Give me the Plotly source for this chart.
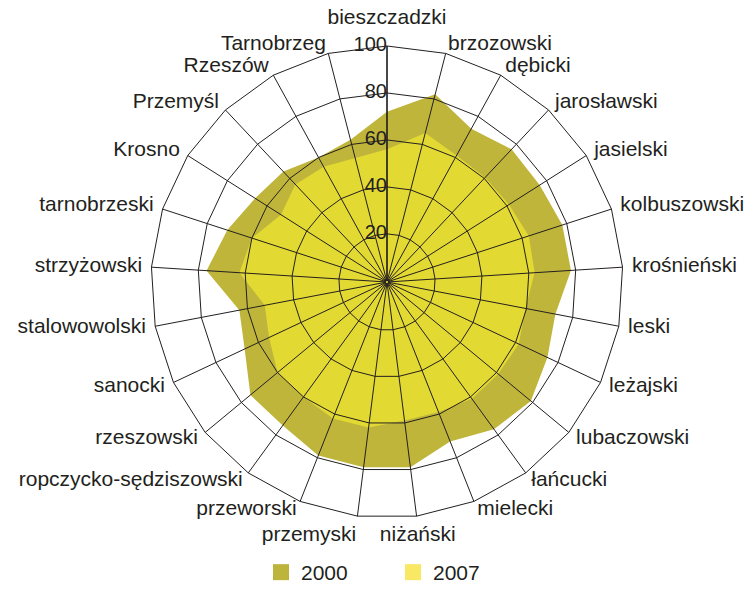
import math
import plotly.graph_objects as go

# districts of Podkarpackie, clockwise from the top
categories = [
    "bieszczadzki", "brzozowski", "dębicki", "jarosławski", "jasielski",
    "kolbuszowski", "krośnieński", "leski", "leżajski", "lubaczowski",
    "łańcucki", "mielecki", "niżański", "przemyski", "przeworski",
    "ropczycko-sędziszowski", "rzeszowski", "sanocki", "stalowowolski",
    "strzyżowski", "tarnobrzeski", "Krosno", "Przemyśl", "Rzeszów", "Tarnobrzeg",
]

values_2000 = [72, 82, 74, 77, 76.5, 78, 78, 72.5, 75, 79, 77, 72.5, 79, 79, 79,
               75, 75, 66.5, 63.5, 76.5, 71, 66, 64, 60, 62]
values_2007 = [56, 65, 61, 60.5, 61, 63, 62.5, 59.5, 61.5, 61, 61, 59, 59, 62, 62,
               60, 60, 55, 52.5, 62.5, 60, 53, 56.5, 55.5, 54]

radial_ticks = [0, 20, 40, 60, 80, 100]

FONT = "Liberation Sans, Arial, sans-serif"
INK = "#231F20"
OLIVE = "#BFB53B"
YELLOW = "#E3D933"
W, H = 751, 593

# the web (0-100) has radius 236 px around (387, 282); the axis range runs a bit
# past 100 so the category labels can sit inside it, and starts just below 0 so
# the "0" label is not treated as outside the range
R_MIN, R_MAX = -0.5, 112
CX, CY, R100 = 387, 282, 236
half = R100 * (R_MAX - R_MIN) / (100 - R_MIN)

fig = go.Figure()

for vals, color in [(values_2000, OLIVE), (values_2007, YELLOW)]:
    fig.add_trace(go.Scatterpolar(
        r=vals + vals[:1],
        theta=categories + categories[:1],
        fill="toself",
        fillcolor=color,
        line=dict(width=0, color=color),
        mode="lines",
        showlegend=False,
        hoverinfo="skip",
    ))

# web drawn on top of the filled areas
ring_r, ring_t = [], []
for t in radial_ticks[1:]:
    ring_r += [t] * (len(categories) + 1) + [None]
    ring_t += categories + categories[:1] + [None]
spoke_r, spoke_t = [], []
for c in categories:
    spoke_r += [0, radial_ticks[-1], None]
    spoke_t += [c, c, None]
fig.add_trace(go.Scatterpolar(r=ring_r + spoke_r, theta=ring_t + spoke_t, mode="lines",
                              line=dict(color=INK, width=1), showlegend=False,
                              hoverinfo="skip", connectgaps=False))
# radial axis line
fig.add_trace(go.Scatterpolar(r=[0, radial_ticks[-1]], theta=[categories[0]] * 2, mode="lines",
                              line=dict(color=INK, width=1.3), showlegend=False,
                              hoverinfo="skip"))

# radial tick labels, left of the vertical axis
fig.add_trace(go.Scatterpolar(
    r=radial_ticks, theta=[categories[0]] * len(radial_ticks),
    mode="text", text=[str(t) for t in radial_ticks],
    textposition="middle left",
    textfont=dict(family=FONT, size=20, color=INK),
    cliponaxis=False,
    showlegend=False, hoverinfo="skip",
))


# category labels just outside the web, anchored away from the centre
def label_position(i):
    a = math.radians(90 - 360 * i / len(categories))
    c, s = math.cos(a), math.sin(a)
    v = "top" if s > 0.99 else ("bottom" if s < -0.95 else "middle")
    h = "right" if c > 0.2 else ("left" if c < -0.1 else "center")
    return f"{v} {h}"


label_pos = [label_position(i) for i in range(len(categories))]
label_r = [107 if p.startswith("top") else 104 for p in label_pos]

fig.add_trace(go.Scatterpolar(
    r=label_r, theta=categories,
    mode="text", text=categories,
    textposition=label_pos,
    textfont=dict(family=FONT, size=21, color=INK),
    cliponaxis=False,
    showlegend=False, hoverinfo="skip",
))

# legend entries (square swatches)
for name, color in [("2000", "#BDB43B"), ("2007", "#F8E863")]:
    fig.add_trace(go.Scatterpolar(
        r=[None], theta=[categories[0]],
        mode="markers",
        marker=dict(symbol="square", size=16, color=color),
        name=name,
    ))

fig.update_layout(
    width=W, height=H,
    margin=dict(l=0, r=0, t=0, b=0),
    paper_bgcolor="white",
    font=dict(family=FONT, size=21, color=INK),
    polar=dict(
        bgcolor="rgba(0,0,0,0)",
        gridshape="linear",
        domain=dict(x=[(CX - half) / W, (CX + half) / W],
                    y=[(H - CY - half) / H, (H - CY + half) / H]),
        radialaxis=dict(
            range=[R_MIN, R_MAX],
            visible=False,
        ),
        angularaxis=dict(
            categoryarray=categories,
            categoryorder="array",
            direction="clockwise",
            rotation=90,
            showline=False,
            showgrid=False,
            showticklabels=False,
            ticks="",
        ),
    ),
    # keep the legend fully inside the page so it does not push the margins
    legend=dict(
        orientation="h",
        x=261 / W, xanchor="left",
        y=0, yanchor="bottom",
        font=dict(size=21, color=INK),
        itemwidth=30,
        entrywidth=87,
        entrywidthmode="pixels",
    ),
)

# page body has an 8px default margin; drop it so the figure sits at 0,0
fig.write_html("out.html", config={"displayModeBar": False},
               post_script="document.body.style.margin='0';")
